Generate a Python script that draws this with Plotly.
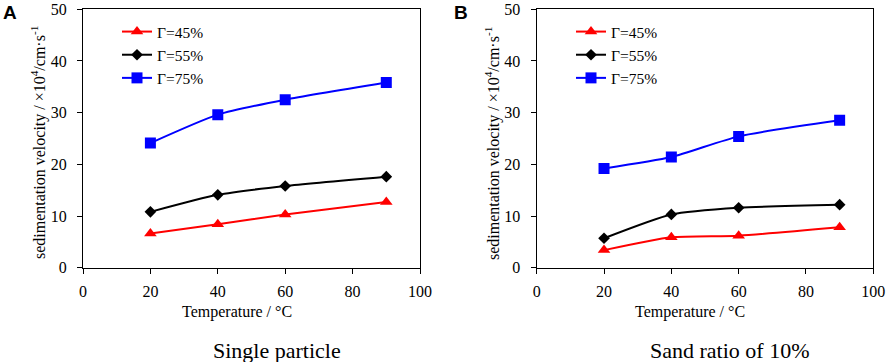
import plotly.graph_objects as go

temps = [20, 40, 60, 90]
series_names = ["Γ=45%", "Γ=55%", "Γ=75%"]
a_45 = [6.6, 8.4, 10.3, 12.7]
a_55 = [10.8, 14.1, 15.8, 17.6]
a_75 = [24.1, 29.6, 32.5, 35.8]
b_45 = [3.4, 5.9, 6.2, 7.8]
b_55 = [5.7, 10.3, 11.6, 12.2]
b_75 = [19.2, 21.4, 25.4, 28.5]
x_ticks = [0, 20, 40, 60, 80, 100]
y_ticks = [0, 10, 20, 30, 40, 50]

colors = ["#ff0000", "#000000", "#0000ff"]
symbols = ["triangle-up", "diamond", "square"]
msizes = [11, 9, 11]

W, H = 886, 362
FONT = "Liberation Serif, Times New Roman, serif"

fig = go.Figure()

panels = [("x", "y", [a_45, a_55, a_75], "legend"), ("x2", "y2", [b_45, b_55, b_75], "legend2")]
for xa, ya, data, lg in panels:
    for i, vals in enumerate(data):
        fig.add_trace(go.Scatter(
            x=temps, y=vals, name=series_names[i], xaxis=xa, yaxis=ya,
            mode="lines+markers", line=dict(color=colors[i], width=2, shape="spline", smoothing=0.6),
            marker=dict(symbol=symbols[i], size=msizes[i], color=colors[i]),
            legend=lg,
        ))

def px(xp):
    return xp / W

def py(yp):
    return (H - yp) / H

ydom = [py(267.7), py(9.2)]
axis_common = dict(showline=True, linecolor="black", linewidth=1.3, mirror=True, automargin=False,
                   ticks="outside", ticklen=5, tickcolor="black", showgrid=False, zeroline=False,
                   tickfont=dict(family=FONT, size=16, color="black"))
x_extra = dict(ticklabelstandoff=4)
y_extra = dict(ticklabelstandoff=7)

fig.update_layout(
    template="none",
    font=dict(family=FONT, color="black"),
    width=W, height=H, margin=dict(l=0, r=0, t=0, b=0, autoexpand=False),
    paper_bgcolor="white", plot_bgcolor="white", showlegend=True,
    xaxis=dict(domain=[px(83), px(420)], range=[0, 100], tickvals=x_ticks, anchor="y", **axis_common, **x_extra),
    yaxis=dict(domain=ydom, range=[0, 50], tickvals=y_ticks, anchor="x", **axis_common, **y_extra),
    xaxis2=dict(domain=[px(536.7), px(873.3)], range=[0, 100], tickvals=x_ticks, anchor="y2", **axis_common, **x_extra),
    yaxis2=dict(domain=ydom, range=[0, 50], tickvals=y_ticks, anchor="x2", **axis_common, **y_extra),
    legend=dict(x=px(117), y=py(15), xanchor="left", yanchor="top", bgcolor="rgba(0,0,0,0)",
                font=dict(family=FONT, size=15.5, color="black"), tracegroupgap=0, itemwidth=30),
    legend2=dict(x=px(571), y=py(15), xanchor="left", yanchor="top", bgcolor="rgba(0,0,0,0)",
                 font=dict(family=FONT, size=15.5, color="black"), tracegroupgap=0, itemwidth=30),
)

ytitle = "sedimentation velocity / ×10<sup>4</sup>/cm·s<sup>-1</sup>"
anns = [
    dict(text="<b>A</b>", x=px(1), y=py(0), xanchor="left", yanchor="top",
         font=dict(family="Liberation Sans", size=19, color="black")),
    dict(text="<b>B</b>", x=px(452), y=py(0), xanchor="left", yanchor="top",
         font=dict(family="Liberation Sans", size=19, color="black")),
    dict(text=ytitle, x=px(38), y=py(143), textangle=-90, xanchor="center", yanchor="middle",
         font=dict(family=FONT, size=16, color="black")),
    dict(text=ytitle, x=px(492), y=py(143), textangle=-90, xanchor="center", yanchor="middle",
         font=dict(family=FONT, size=16, color="black")),
    dict(text="Temperature / °C", x=px(237), y=py(312), xanchor="center", yanchor="middle",
         font=dict(family=FONT, size=16, color="black")),
    dict(text="Temperature / °C", x=px(690), y=py(312), xanchor="center", yanchor="middle",
         font=dict(family=FONT, size=16, color="black")),
    dict(text="Single particle", x=px(277), y=py(350), xanchor="center", yanchor="middle",
         font=dict(family=FONT, size=22, color="black")),
    dict(text="Sand ratio of 10%", x=px(729), y=py(350), xanchor="center", yanchor="middle",
         font=dict(family=FONT, size=22, color="black")),
]
for a in anns:
    a.update(xref="paper", yref="paper", showarrow=False)
fig.update_layout(annotations=anns)

fig.write_html("out.html", config={"displayModeBar": False},
               post_script="document.body.style.margin='0';document.body.style.overflow='hidden';")
